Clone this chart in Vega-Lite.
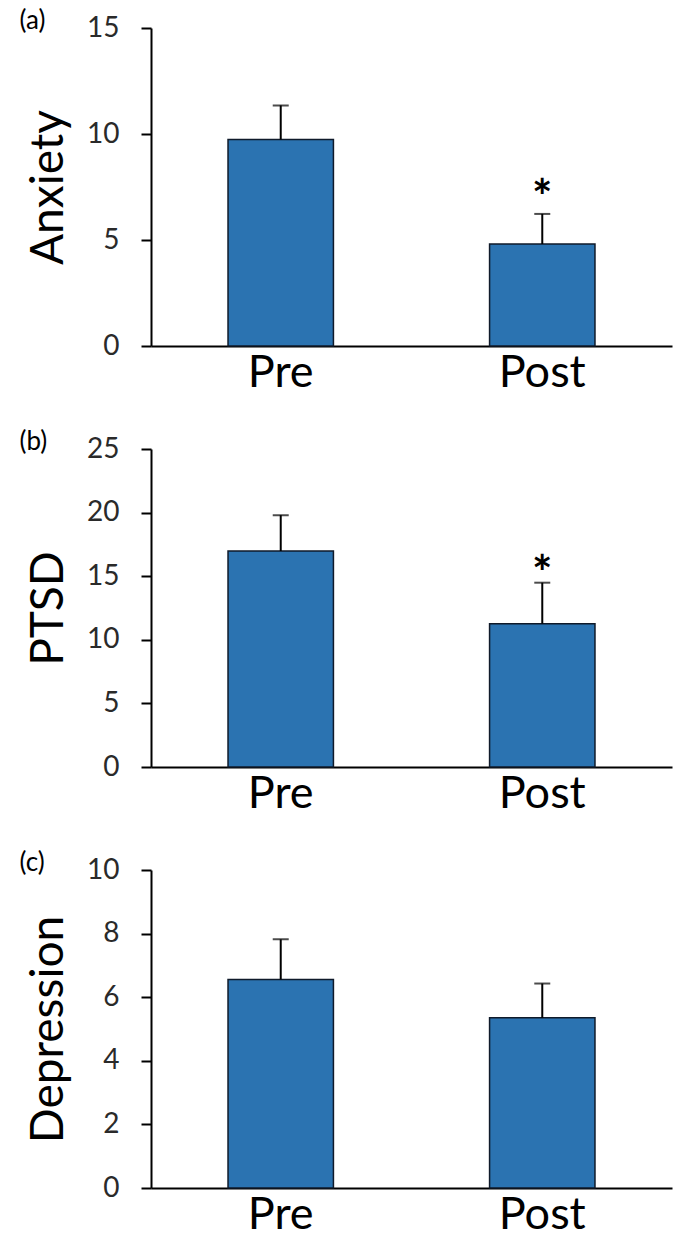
{
  "$schema": "https://vega.github.io/schema/vega-lite/v6.json",
  "padding": {"left": 19, "top": 8, "right": 17, "bottom": 5},
  "background": "white",
  "spacing": 34,
  "config": {
    "font": "Lato",
    "view": {"stroke": null},
    "title": {"fontSize": 26, "fontWeight": "normal", "color": "black", "anchor": "start", "frame": "bounds", "offset": -20, "dx": -6},
    "axisY": {"domainColor": "black", "domainWidth": 2, "tickColor": "black", "tickWidth": 2, "tickSize": 10, "labelFontSize": 28, "labelPadding": 22, "labelColor": "#2a2a2a", "titleFontSize": 46, "titleFontWeight": "normal", "titleColor": "black", "titlePadding": 14, "grid": false},
    "axisX": {"domainColor": "black", "domainWidth": 2, "ticks": false, "labelFontSize": 45, "labelPadding": 4, "labelAngle": 0, "labelColor": "black", "title": null}
  },
  "vconcat": [
    {
      "width": 521, "height": 318,
      "title": "(a)",
      "data": {"values": [
        {"condition": "Pre", "mean": 9.74, "upper": 11.35, "star": null, "sig": ""},
        {"condition": "Post", "mean": 4.81, "upper": 6.23, "star": 7.42, "sig": "*"}
      ]},
      "encoding": {"x": {"field": "condition", "type": "nominal", "sort": ["Pre", "Post"], "scale": {"paddingInner": 0.597, "paddingOuter": 0.2945}, "axis": {"title": null}}},
      "layer": [
        {"mark": {"type": "bar", "color": "#2B73B1", "stroke": "#0f1a2a", "strokeWidth": 1.5},
         "encoding": {"y": {"field": "mean", "type": "quantitative", "scale": {"domain": [0, 15], "nice": false}, "axis": {"title": "Anxiety", "values": [0, 5, 10, 15]}}}},
        {"mark": {"type": "rule", "color": "black", "strokeWidth": 2},
         "encoding": {"y": {"field": "mean", "type": "quantitative"}, "y2": {"field": "upper"}}},
        {"mark": {"type": "tick", "color": "black", "thickness": 2, "size": 16},
         "encoding": {"y": {"field": "upper", "type": "quantitative"}}},
        {"mark": {"type": "text", "fontSize": 48, "fontWeight": "bold", "baseline": "middle", "color": "black", "dy": 11},
         "encoding": {"y": {"field": "star", "type": "quantitative"}, "text": {"field": "sig"}}}
      ]
    },
    {
      "width": 521, "height": 318,
      "title": "(b)",
      "data": {"values": [
        {"condition": "Pre", "mean": 16.98, "upper": 19.8, "star": null, "sig": ""},
        {"condition": "Post", "mean": 11.27, "upper": 14.49, "star": 15.9, "sig": "*"}
      ]},
      "encoding": {"x": {"field": "condition", "type": "nominal", "sort": ["Pre", "Post"], "scale": {"paddingInner": 0.597, "paddingOuter": 0.2945}, "axis": {"title": null}}},
      "layer": [
        {"mark": {"type": "bar", "color": "#2B73B1", "stroke": "#0f1a2a", "strokeWidth": 1.5},
         "encoding": {"y": {"field": "mean", "type": "quantitative", "scale": {"domain": [0, 25], "nice": false}, "axis": {"title": "PTSD", "values": [0, 5, 10, 15, 20, 25]}}}},
        {"mark": {"type": "rule", "color": "black", "strokeWidth": 2},
         "encoding": {"y": {"field": "mean", "type": "quantitative"}, "y2": {"field": "upper"}}},
        {"mark": {"type": "tick", "color": "black", "thickness": 2, "size": 16},
         "encoding": {"y": {"field": "upper", "type": "quantitative"}}},
        {"mark": {"type": "text", "fontSize": 48, "fontWeight": "bold", "baseline": "middle", "color": "black", "dy": 11},
         "encoding": {"y": {"field": "star", "type": "quantitative"}, "text": {"field": "sig"}}}
      ]
    },
    {
      "width": 521, "height": 318,
      "title": "(c)",
      "data": {"values": [
        {"condition": "Pre", "mean": 6.56, "upper": 7.82},
        {"condition": "Post", "mean": 5.35, "upper": 6.43}
      ]},
      "encoding": {"x": {"field": "condition", "type": "nominal", "sort": ["Pre", "Post"], "scale": {"paddingInner": 0.597, "paddingOuter": 0.2945}, "axis": {"title": null}}},
      "layer": [
        {"mark": {"type": "bar", "color": "#2B73B1", "stroke": "#0f1a2a", "strokeWidth": 1.5},
         "encoding": {"y": {"field": "mean", "type": "quantitative", "scale": {"domain": [0, 10], "nice": false}, "axis": {"title": "Depression", "values": [0, 2, 4, 6, 8, 10]}}}},
        {"mark": {"type": "rule", "color": "black", "strokeWidth": 2},
         "encoding": {"y": {"field": "mean", "type": "quantitative"}, "y2": {"field": "upper"}}},
        {"mark": {"type": "tick", "color": "black", "thickness": 2, "size": 16},
         "encoding": {"y": {"field": "upper", "type": "quantitative"}}}
      ]
    }
  ]
}
